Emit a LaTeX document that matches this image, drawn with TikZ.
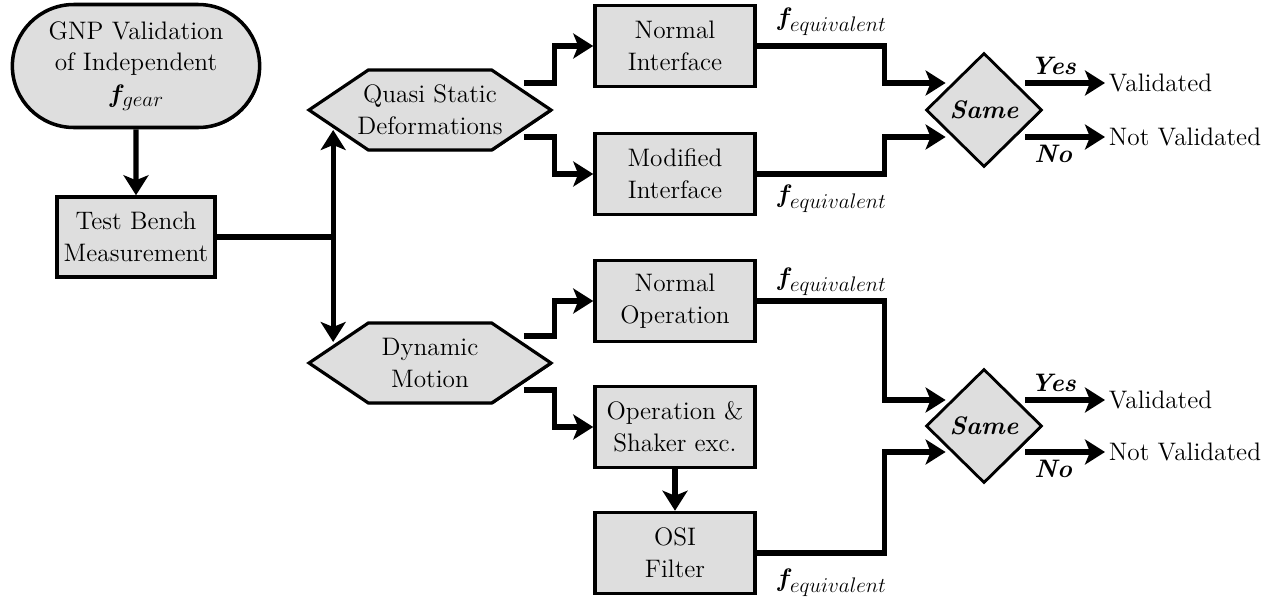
\documentclass[tikz,border=0pt]{standalone}
\usepackage{amsmath, amssymb, bm}
\usepackage{tikz}
\usetikzlibrary{shapes.geometric, shapes.misc, shapes.symbols, arrows.meta, positioning, calc, shadows}
\usepackage{xcolor}

\newcommand{\feqv}[1]{$\bm{f}_{\text{\large$#1$}}$}

\begin{document}
\begin{tikzpicture}[
        box/.style={draw, rectangle, line width=2pt, fill=gray!26, minimum width=3.2cm, minimum height=1.62cm, align=center, font=\Large, drop shadow={shadow xshift=0.7pt, shadow yshift=-0.7pt, fill=black, opacity=1}},
        hexa/.style={draw, signal, signal to=west and east, signal pointer angle=68, line width=1.8pt, fill=gray!26, inner xsep=-0.28cm, minimum width=4.84cm, minimum height=1.6cm, align=center, font=\Large, drop shadow={shadow xshift=0.7pt, shadow yshift=-0.7pt, fill=black, opacity=1}},
        same/.style={draw, diamond, line width=1.6pt, fill=gray!26, minimum width=2.32cm, minimum height=2.28cm, inner sep=0pt, font=\Large, drop shadow={shadow xshift=0.5pt, shadow yshift=-0.5pt, fill=black, opacity=1}},
        conn/.style={line width=3pt, -{Stealth[length=4mm, width=5mm, inset=1mm]}},
        wire/.style={line width=3pt},
        feq/.style={font=\Large, inner sep=2pt},
        outcome/.style={font=\Large, anchor=west, inner sep=2pt}
    ]
        \useasboundingbox (0, 0) rectangle (25.58, -11.98);

        % Start: GNP Validation
        \node[draw, rounded rectangle, line width=2pt, fill=gray!26, minimum width=5.18cm, minimum height=2.46cm, align=center, font=\Large, drop shadow={shadow xshift=0.7pt, shadow yshift=-0.7pt, fill=black, opacity=1}] (gnp) at (2.72, -1.32) {GNP Validation\\of Independent\\\feqv{gear}};

        % Test Bench
        \node[box, minimum width=3.16cm, minimum height=1.6cm] (bench) at (2.72, -4.74) {Test Bench\\Measurement};

        % Two kinds of tests
        \node[hexa] (quasi) at (8.6, -2.2) {Quasi Static\\Deformations};
        \node[hexa] (dyn) at (8.6, -7.26) {Dynamic\\Motion};

        % Measurement cases
        \node[box] (nint) at (13.5, -0.92) {Normal\\Interface};
        \node[box] (mint) at (13.5, -3.48) {Modified\\Interface};
        \node[box] (nop) at (13.5, -6.02) {Normal\\Operation};
        \node[box] (shak) at (13.5, -8.54) {Operation \&\\Shaker exc.};
        \node[box] (osi) at (13.5, -11.06) {OSI\\Filter};

        % Comparisons
        \node[same] (cmpa) at (19.68, -2.2) {\textbf{\textit{Same}}};
        \node[same] (cmpb) at (19.68, -8.52) {\textbf{\textit{Same}}};

        % Outcomes
        \node[outcome] (vala) at (22.1, -1.66) {Validated};
        \node[outcome] (nvala) at (22.1, -2.74) {Not Validated};
        \node[outcome] (valb) at (22.1, -8.0) {Validated};
        \node[outcome] (nvalb) at (22.1, -9.04) {Not Validated};

        % f equivalent labels
        \node[feq, anchor=north west] (fa) at ([xshift=0.3cm]nint.north east) {\feqv{equivalent}};
        \node[feq, anchor=south west] (fb) at ([xshift=0.3cm]mint.south east) {\feqv{equivalent}};
        \node[feq, anchor=north west] (fc) at ([xshift=0.3cm, yshift=-0.1cm]nop.north east) {\feqv{equivalent}};
        \node[feq, anchor=south west] (fd) at ([xshift=0.3cm, yshift=-0.1cm]osi.south east) {\feqv{equivalent}};

        % Frecce
        \draw[conn] (gnp) -- (bench);
        \coordinate (jn) at ([xshift=0.54cm]quasi.west |- bench.east);
        \draw[wire] (bench.east) -- (jn);
        \draw[conn] (jn) -- ([xshift=0.54cm, yshift=-0.4cm]quasi.west);
        \draw[conn] (jn) -- ([xshift=0.54cm, yshift=0.42cm]dyn.west);

        \draw[conn] ([xshift=-0.6cm, yshift=0.54cm]quasi.east) -- ++(0.62, 0) |- (nint.west);
        \draw[conn] ([xshift=-0.6cm, yshift=-0.54cm]quasi.east) -- ++(0.62, 0) |- (mint.west);
        \draw[conn] ([xshift=-0.6cm, yshift=0.54cm]dyn.east) -- ++(0.62, 0) |- (nop.west);
        \draw[conn] ([xshift=-0.6cm, yshift=-0.54cm]dyn.east) -- ++(0.62, 0) |- (shak.west);
        \draw[conn] (shak) -- (osi);

        \draw[conn] (nint.east) -- ++(2.56, 0) |- ([xshift=0.42cm, yshift=0.54cm]cmpa.west);
        \draw[conn] (mint.east) -- ++(2.56, 0) |- ([xshift=0.42cm, yshift=-0.54cm]cmpa.west);
        \draw[conn] (nop.east) -- ++(2.56, 0) |- ([xshift=0.42cm, yshift=0.52cm]cmpb.west);
        \draw[conn] (osi.east) -- ++(2.56, 0) |- ([xshift=0.42cm, yshift=-0.52cm]cmpb.west);

        \draw[conn] (cmpa.east |- vala.west) ++(-0.36, 0) -- node[pos=0.35, above, font=\Large] {\textbf{\textit{Yes}}} (vala.west);
        \draw[conn] (cmpa.east |- nvala.west) ++(-0.36, 0) -- node[pos=0.35, below, font=\Large] {\textbf{\textit{No}}} (nvala.west);
        \draw[conn] (cmpb.east |- valb.west) ++(-0.36, 0) -- node[pos=0.35, above, font=\Large] {\textbf{\textit{Yes}}} (valb.west);
        \draw[conn] (cmpb.east |- nvalb.west) ++(-0.36, 0) -- node[pos=0.35, below, font=\Large] {\textbf{\textit{No}}} (nvalb.west);
    \end{tikzpicture}
\end{document}
